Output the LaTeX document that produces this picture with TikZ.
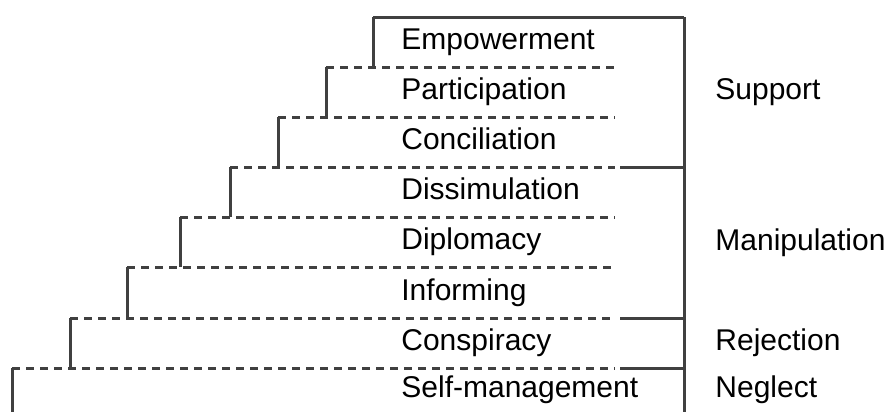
\documentclass[tikz,border=0pt]{standalone}
\usepackage{fontspec}
\setmainfont{Liberation Sans}
\definecolor{stairgray}{HTML}{404040}

\def\xtext{401}
\def\xgroup{715}
\def\xdash{615}
\def\xsolid{620}
\def\xframe{684}
\def\ytop{17}
\def\ybot{412}
\def\shift{7.5}

\tikzset{
  stair/.style={line width=1.5pt,draw=stairgray},
  rung/.style={stair,dash pattern=on 4pt off 3pt},
  level/.style={anchor=base west,inner sep=0pt,font=\fontsize{15}{17}\selectfont}
}

\begin{document}
\begin{tikzpicture}[x=0.5pt,y=-0.5pt]
 \useasboundingbox (0,0) rectangle (888,412);

 % frame on the right
 \coordinate (FT) at (\xframe,\ytop);
 \coordinate (FB) at (\xframe,\ybot);
 \draw[stair] (FT) -- (FB);

 % the steps, top to bottom
 \foreach \xl/\ya/\yb/\name [count=\i] in {373/17/67/Empowerment, 326/67/117/Participation,
   278/117/167/Conciliation, 230/167/217/Dissimulation, 180/217/267/Diplomacy,
   127/267/318/Informing, 70/318/368/Conspiracy, 12/368/412/Self-management} {
   \coordinate (S\i) at (\xl,\ya);
   \coordinate (B\i) at (\xl,\yb);
   \coordinate (E\i) at (\xdash,\ya);
   \draw[stair] (S\i) -- (B\i);
   \ifnum\i>1
     \draw[rung] (S\i) -- (E\i);
   \fi
   \node[level] (L\i) at (\xtext,{(\ya+\yb)/2+\shift}) {\name};
 }
 \draw[stair] (S1) -- (FT);

 % solid ends where the groups change
 \foreach \y/\n in {167/C, 318/R, 368/N} {
   \coordinate (G\n) at (\xsolid,\y);
   \coordinate (H\n) at (\xframe,\y);
   \draw[stair] (G\n) -- (H\n);
 }

 \node[level] (support) at (\xgroup,{92+\shift}) {Support};
 \node[level] (manip) at (\xgroup,{242.5+\shift}) {Manipulation};
 \node[level] (reject) at (\xgroup,{343+\shift}) {Rejection};
 \node[level] (neglect) at (\xgroup,{390+\shift}) {Neglect};
\end{tikzpicture}
\end{document}
